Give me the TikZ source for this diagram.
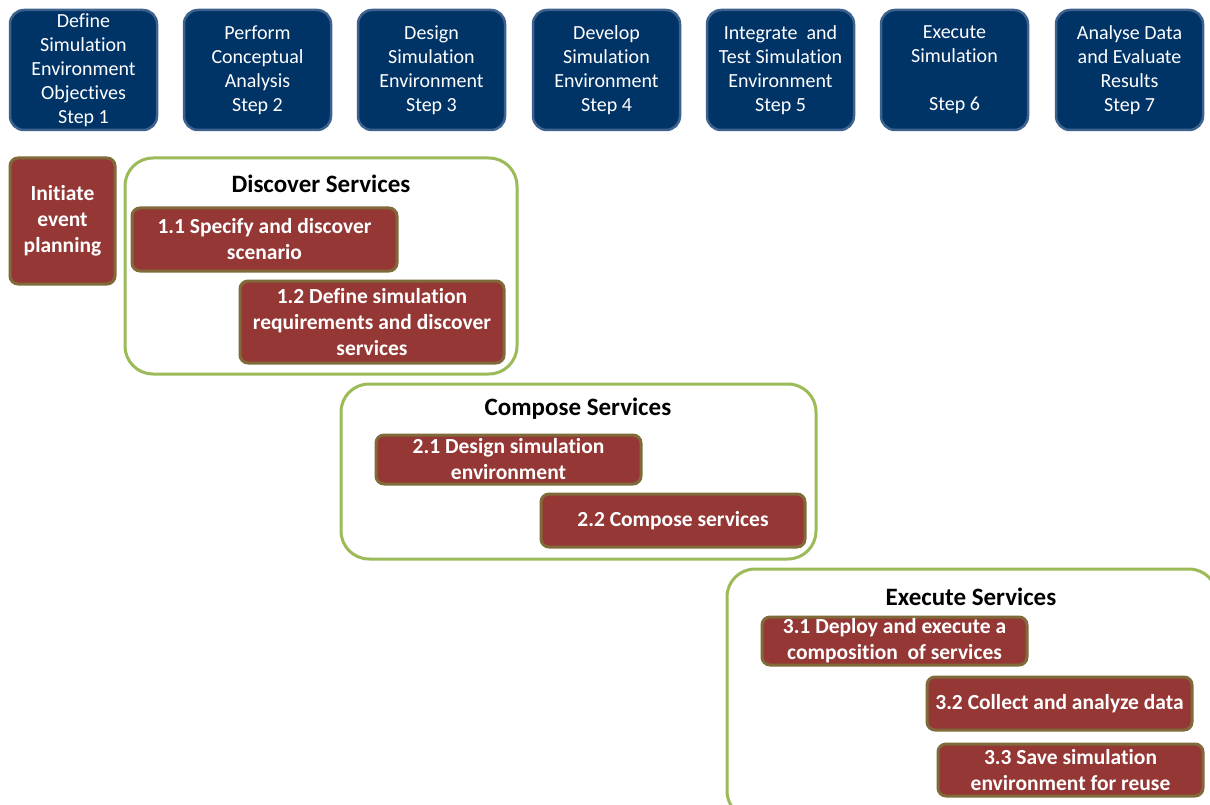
\documentclass[tikz,border=0pt]{standalone}
\usepackage{fontspec}
\setmainfont{Carlito}[Ligatures={NoCommon,NoContextual}, Contextuals=NoAlternate, RawFeature={-liga;-clig;-calt}]

\definecolor{stepblue}{RGB}{0,51,102}
\definecolor{stepedge}{RGB}{62,98,142}
\definecolor{taskred}{RGB}{149,55,53}
\definecolor{taskedge}{RGB}{128,106,58}
\definecolor{groupgreen}{RGB}{155,187,89}

\begin{document}
\begin{tikzpicture}[
		x=1pt, y=-1pt,
		stepnode/.style={
		% The shape:
		rectangle, rounded corners=14pt,
		% The size:
		minimum width=147pt, minimum height=120pt, inner sep=0pt,
		% The border:
		line width=2.5pt, draw=stepedge,
		% The filling:
		fill=stepblue,
		% Font
		text=white, align=center, font=\fontsize{20}{24}\selectfont
		},
		tasknode/.style={
		% The shape:
		rectangle, rounded corners=8pt,
		% The size:
		minimum width=265pt, inner sep=0pt,
		% The border:
		line width=3pt, draw=taskedge,
		% The filling:
		fill=taskred,
		% Font
		text=white, align=center, font=\fontsize{21.5}{26}\selectfont\bfseries
		},
		groupnode/.style={
		% The shape:
		rectangle, rounded corners=28pt,
		% The border:
		line width=3pt, draw=groupgreen,
		% The filling:
		fill=white, inner sep=0pt
		},
		titlenode/.style={
		font=\fontsize{25}{29}\selectfont\bfseries, inner sep=0pt
		}
	]
	\useasboundingbox (0,0) rectangle (1210,805);
	\clip (0,0) rectangle (1210,805);

	% steps of the process
	\node (S1)[stepnode] at (83.5,70)   {Define\\Simulation\\Environment\\Objectives\\Step 1};
	\node (S2)[stepnode] at (257.5,70)  {Perform\\Conceptual\\Analysis\\Step 2};
	\node (S3)[stepnode] at (431.5,70)  {Design\\Simulation\\Environment\\Step 3};
	\node (S4)[stepnode] at (606.5,70)  {Develop\\Simulation\\Environment\\Step 4};
	\node (S5)[stepnode] at (780.5,70)  {Integrate~ and\\Test Simulation\\Environment\\Step 5};
	\node (S6)[stepnode] at (954.5,70)  {Execute\\Simulation\\~\\Step 6};
	\node (S7)[stepnode] at (1129.5,70) {Analyse Data\\and Evaluate\\Results\\Step 7};

	\node (INIT)[tasknode, minimum width=105pt, minimum height=126pt] at (62.5,221) {Initiate\\event\\planning};

	% discover
	\node (DS)[groupnode, minimum width=392pt, minimum height=216pt] at (321,266) {};
	\node (DST)[titlenode] at (321,184) {Discover Services};
	\node (T11)[tasknode, minimum height=63pt] at (264.5,239.5) {1.1 Specify and discover\\scenario};
	\node (T12)[tasknode, minimum width=264pt, minimum height=82pt] at (372,322) {1.2 Define simulation\\requirements and discover\\services};

	% compose
	\node (CS)[groupnode, minimum width=475pt, minimum height=175pt] at (578.5,471.5) {};
	\node (CST)[titlenode] at (578,409) {Compose Services};
	\node (T21)[tasknode, minimum height=49pt] at (508.5,459.5) {2.1 Design simulation\\environment};
	\node (T22)[tasknode, minimum width=264pt, minimum height=53pt] at (673,520.5) {2.2 Compose services};

	% execute
	\node (ES)[groupnode, minimum width=490pt, minimum height=250pt] at (972,694) {};
	\node (EST)[titlenode] at (971,597) {Execute Services};
	\node (T31)[tasknode, minimum height=48pt] at (894.5,641) {3.1 Deploy and execute a\\composition~ of services};
	\node (T32)[tasknode, minimum height=53pt] at (1059.5,703.5) {3.2 Collect and analyze data};
	\node (T33)[tasknode, minimum height=52pt] at (1070.5,770) {3.3 Save simulation\\environment for reuse};
\end{tikzpicture}
\end{document}
